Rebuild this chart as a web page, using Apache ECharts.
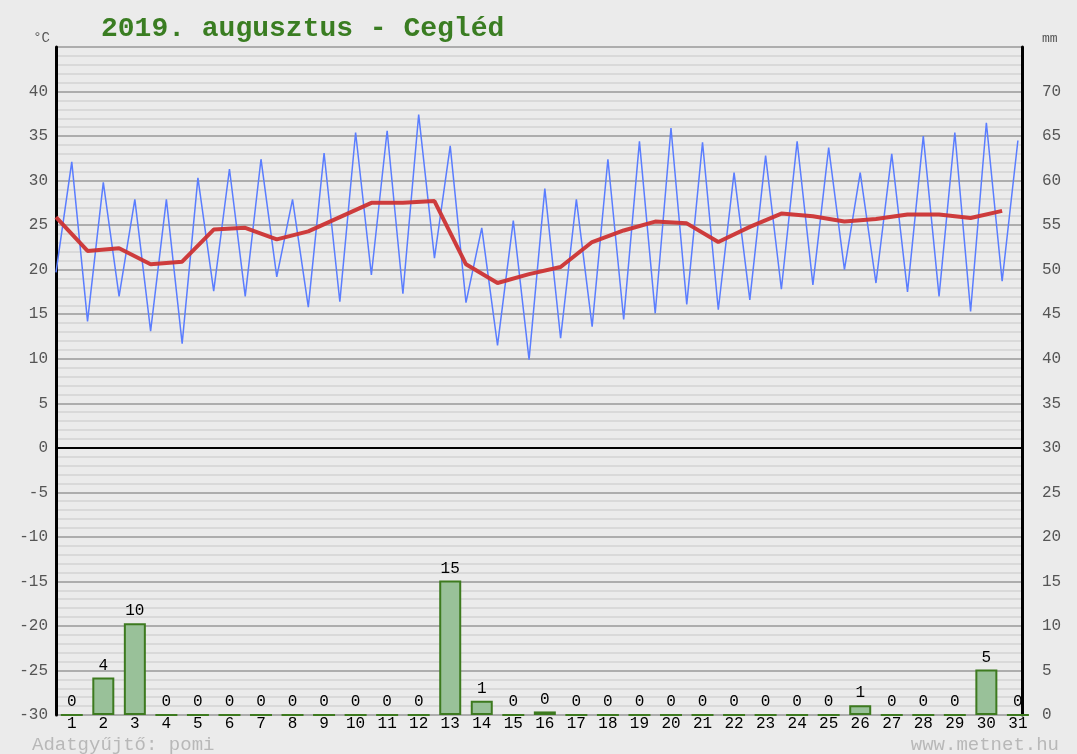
<!DOCTYPE html>
<html>
<head>
    <meta charset="utf-8">
    <title>2019. augusztus - Cegléd</title>
    <style>
        body {
            margin: 0;
            background: #ebebeb;
        }

        #chart {
            width: 1077px;
            height: 754px;
        }
    </style>
</head>
<body>
<div id="chart"></div>
<script type="text/javascript" src="https://cdn.jsdelivr.net/npm/echarts@6/dist/echarts.min.js"></script>
<script type="text/javascript">
    // napok
    var days = [1, 2, 3, 4, 5, 6, 7, 8, 9, 10, 11, 12, 13, 14, 15, 16, 17, 18, 19, 20, 21, 22, 23, 24, 25, 26, 27, 28, 29, 30, 31];
    // minimum / maximum / napi atlag homerseklet (°C)
    var tMin = [19.7, 14.2, 17.0, 13.1, 11.7, 17.6, 17.0, 19.2, 15.8, 16.4, 19.4, 17.3, 21.3, 16.3, 11.5, 9.9,
        12.3, 13.6, 14.4, 15.1, 16.1, 15.5, 16.6, 17.8, 18.3, 20.0, 18.5, 17.5, 17.0, 15.3, 18.7];
    var tMax = [32.1, 29.8, 27.9, 27.9, 30.3, 31.3, 32.4, 27.9, 33.1, 35.4, 35.6, 37.4, 33.9, 24.7, 25.5, 29.1,
        27.9, 32.4, 34.4, 35.9, 34.3, 30.9, 32.8, 34.4, 33.7, 30.9, 33.0, 35.0, 35.4, 36.5, 34.5];
    var tMean = [25.9, 22.1, 22.4, 20.6, 20.9, 24.5, 24.7, 23.4, 24.3, 25.9, 27.5, 27.5, 27.7, 20.6, 18.5, 19.5,
        20.3, 23.1, 24.4, 25.4, 25.2, 23.1, 24.8, 26.3, 26.0, 25.4, 25.7, 26.2, 26.2, 25.8, 26.6];
    // csapadek (mm)
    var rain = [0, 4.2, 10.3, 0, 0, 0, 0, 0, 0, 0, 0, 0, 15.1, 1.6, 0, 0.4,
        0, 0, 0, 0, 0, 0, 0, 0, 0, 1.1, 0, 0, 0, 5.1, 0];

    var monoFont = '"Liberation Mono", "DejaVu Sans Mono", monospace';

    var tempLine = [];
    var meanLine = [];
    var rainBars = [];
    days.forEach(function (d, i) {
        tempLine.push([d - 0.5, tMin[i]]);
        tempLine.push([d, tMax[i]]);
        meanLine.push([d - 0.5, tMean[i]]);
        rainBars.push([d, rain[i]]);
    });

    var chart = echarts.init(document.getElementById('chart'));

    chart.setOption({
        backgroundColor: '#ebebeb',
        animation: false,
        title: {
            text: '2019. augusztus - Cegléd',
            left: 96,
            top: 10,
            textStyle: {
                fontFamily: monoFont,
                fontWeight: 'bold',
                fontSize: 28,
                color: '#3a7d22'
            }
        },
        graphic: [{
            type: 'text',
            left: 32,
            top: 735,
            style: {text: 'Adatgyűjtő: pomi', font: '19px ' + monoFont, fill: '#b8b8b8'}
        }, {
            type: 'text',
            right: 18,
            top: 735,
            style: {text: 'www.metnet.hu', font: '19px ' + monoFont, fill: '#b8b8b8'}
        }],
        grid: {
            left: 56,
            right: 55,
            top: 47,
            bottom: 39
        },
        xAxis: {
            type: 'value',
            min: 0.5,
            max: 31.13,
            axisLine: {show: false},
            axisTick: {show: false},
            splitLine: {show: false},
            axisLabel: {
                customValues: days,
                margin: 1,
                color: '#000',
                fontFamily: monoFont,
                fontSize: 16
            }
        },
        yAxis: [{
            type: 'value',
            min: -30,
            max: 45,
            interval: 5,
            name: '°C',
            nameLocation: 'end',
            nameGap: 2,
            nameTextStyle: {
                align: 'right',
                padding: [0, 6, 0, 0],
                color: '#555',
                fontFamily: monoFont,
                fontSize: 14
            },
            axisLine: {show: true, lineStyle: {color: '#000', width: 3}},
            axisTick: {show: false},
            axisLabel: {
                showMaxLabel: false,
                margin: 8,
                color: '#555',
                fontFamily: monoFont,
                fontSize: 16
            },
            splitLine: {lineStyle: {color: '#999', width: 1.5}},
            minorTick: {show: false, splitNumber: 5},
            minorSplitLine: {show: true, lineStyle: {color: '#d9d9d9', width: 2}}
        }, {
            type: 'value',
            min: 0,
            max: 75,
            interval: 5,
            position: 'right',
            name: 'mm',
            nameLocation: 'end',
            nameGap: 2,
            nameTextStyle: {
                align: 'left',
                padding: [0, 0, 0, 20],
                color: '#555',
                fontFamily: monoFont,
                fontSize: 13
            },
            axisLine: {show: true, lineStyle: {color: '#000', width: 3}},
            axisTick: {show: false},
            axisLabel: {
                showMaxLabel: false,
                margin: 20,
                color: '#555',
                fontFamily: monoFont,
                fontSize: 16
            },
            splitLine: {show: false}
        }],
        series: [{
            name: 'csapadék',
            type: 'bar',
            yAxisIndex: 1,
            barWidth: 22,
            data: rainBars,
            itemStyle: {
                color: '#99c199',
                borderColor: '#3d7a1f',
                borderWidth: 2
            },
            label: {
                show: true,
                position: 'top',
                distance: 4,
                color: '#000',
                fontFamily: monoFont,
                fontSize: 16,
                formatter: function (p) {
                    return Math.floor(p.value[1]);
                }
            }
        }, {
            name: 'hőmérséklet',
            type: 'line',
            data: tempLine,
            symbol: 'none',
            lineStyle: {color: '#5a7dff', width: 1.5}
        }, {
            name: 'átlag',
            type: 'line',
            data: meanLine,
            symbol: 'none',
            z: 3,
            lineStyle: {color: '#cc3333', width: 4, opacity: 0.95},
            markLine: {
                silent: true,
                symbol: 'none',
                label: {show: false},
                lineStyle: {color: '#000', width: 2, type: 'solid'},
                data: [{yAxis: 0}]
            }
        }]
    });
</script>
</body>
</html>
